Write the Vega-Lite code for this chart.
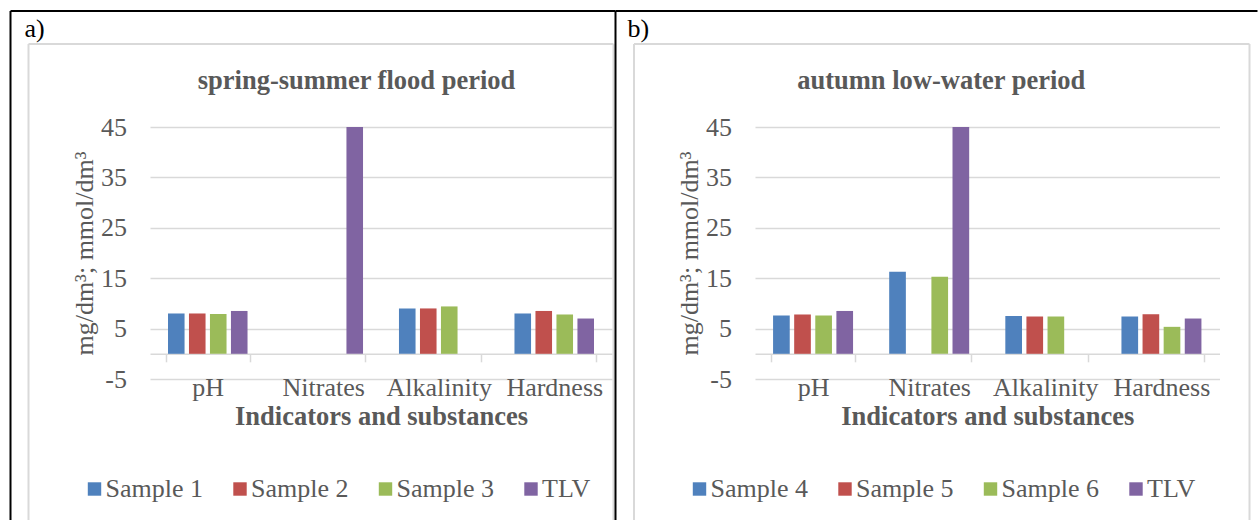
{
  "$schema": "https://vega.github.io/schema/vega-lite/v6.json",
  "padding": {"left": 9, "top": 10, "right": 0, "bottom": 0},
  "background": "white",
  "config": {"view": {"stroke": null}, "font": "Liberation Serif"},
  "spacing": 143,
  "bounds": "flush",
  "resolve": {"scale": {"color": "independent", "x": "independent", "y": "independent", "xOffset": "independent"}, "legend": {"color": "independent"}, "axis": {"x": "independent", "y": "independent"}},
  "hconcat": [
    {
      "width": 462,
      "height": 252,
      "title": {"text": "spring-summer flood period", "frame": "group", "anchor": "middle", "dx": -24.5, "offset": -105, "baseline": "alphabetic", "font": "Liberation Serif", "fontSize": 26.5, "fontWeight": "bold", "color": "#595959"},
      "resolve": {"scale": {"x": "independent", "y": "independent"}, "axis": {"x": "independent", "y": "independent"}},
      "layer": [
        {
          "data": {"values": [{"frame": "chart area"}]},
          "layer": [
            {"mark": {"type": "rule", "color": "#d9d9d9", "strokeWidth": 2}, "encoding": {"x": {"datum": 0, "type": "quantitative", "scale": {"domain": [0, 1], "range": [-121.5, 463.5]}, "axis": null}, "x2": {"datum": 1}, "y": {"datum": 0, "type": "quantitative", "scale": {"domain": [0, 1], "range": [-83, 393]}, "axis": null}}},
            {"mark": {"type": "rule", "color": "#d9d9d9", "strokeWidth": 2}, "encoding": {"x": {"datum": 0, "type": "quantitative", "scale": {"domain": [0, 1], "range": [-121.5, 463.5]}, "axis": null}, "y": {"datum": 0, "type": "quantitative", "scale": {"domain": [0, 1], "range": [-83, 393]}, "axis": null}, "y2": {"datum": 1}}},
            {"mark": {"type": "rule", "color": "#d9d9d9", "strokeWidth": 2}, "encoding": {"x": {"datum": 1, "type": "quantitative", "scale": {"domain": [0, 1], "range": [-121.5, 463.5]}, "axis": null}, "y": {"datum": 0, "type": "quantitative", "scale": {"domain": [0, 1], "range": [-83, 393]}, "axis": null}, "y2": {"datum": 1}}}
          ]
        },
        {
          "data": {"values": [
            {"indicator": "pH", "series": "Sample 1", "value": 8.0},
            {"indicator": "pH", "series": "Sample 2", "value": 8.0},
            {"indicator": "pH", "series": "Sample 3", "value": 7.9},
            {"indicator": "pH", "series": "TLV", "value": 8.5},
            {"indicator": "Nitrates", "series": "TLV", "value": 45},
            {"indicator": "Alkalinity", "series": "Sample 1", "value": 9.0},
            {"indicator": "Alkalinity", "series": "Sample 2", "value": 9.0},
            {"indicator": "Alkalinity", "series": "Sample 3", "value": 9.4},
            {"indicator": "Hardness", "series": "Sample 1", "value": 8.0},
            {"indicator": "Hardness", "series": "Sample 2", "value": 8.5},
            {"indicator": "Hardness", "series": "Sample 3", "value": 7.8},
            {"indicator": "Hardness", "series": "TLV", "value": 7.0}
          ]},
          "mark": {"type": "bar"},
          "encoding": {
            "x": {"field": "indicator", "type": "nominal", "sort": ["pH", "Nitrates", "Alkalinity", "Hardness"], "scale": {"paddingInner": 0.273, "paddingOuter": 0.1365}, "title": "Indicators and substances",
              "axis": {"orient": "bottom", "offset": -25.2, "domainColor": "#d9d9d9", "domainWidth": 1.5, "ticks": true, "tickBand": "extent", "tickSize": 8, "tickColor": "#d9d9d9", "tickWidth": 1.5, "labelFont": "Liberation Serif", "labelFontSize": 26, "labelColor": "#595959", "labelPadding": 13, "labelAngle": 0, "labelOverlap": false, "grid": false, "titleFont": "Liberation Serif", "titleFontSize": 26.5, "titleFontWeight": "bold", "titleColor": "#595959", "titlePadding": 3}},
            "xOffset": {"field": "series", "type": "nominal", "scale": {"domain": ["Sample 1", "Sample 2", "Sample 3", "TLV"], "paddingInner": 0.21, "paddingOuter": 0.105}},
            "y": {"field": "value", "type": "quantitative", "scale": {"domain": [-5, 45], "nice": false}, "title": "mg/dm³; mmol/dm³",
              "axis": {"values": [-5, 5, 15, 25, 35, 45], "domain": false, "ticks": false, "grid": true, "gridColor": "#d9d9d9", "gridWidth": 1.5, "labelFont": "Liberation Serif", "labelFontSize": 26, "labelColor": "#595959", "labelPadding": 23.5, "labelExpr": "'' + datum.value", "titleFont": "Liberation Serif", "titleFontSize": 26, "titleFontWeight": "normal", "titleColor": "#595959", "titlePadding": 3}},
            "color": {"field": "series", "type": "nominal", "scale": {"domain": ["Sample 1", "Sample 2", "Sample 3", "TLV"], "range": ["#4f81bd", "#c0504d", "#9bbb59", "#8064a2"]},
              "legend": {"orient": "none", "legendX": -68.5, "legendY": 349, "direction": "horizontal", "title": null, "symbolType": "square", "symbolSize": 180, "symbolStrokeWidth": 0, "labelFont": "Liberation Serif", "labelFontSize": 26, "labelColor": "#595959", "labelOffset": -2, "columnPadding": 23.5, "padding": 0}}
          }
        },
        {
          "data": {"values": [{"panel": "a)"}]},
          "layer": [
            {"mark": {"type": "rule", "color": "black", "strokeWidth": 2}, "encoding": {"x": {"datum": 0, "type": "quantitative", "scale": {"domain": [0, 1], "range": [-139.5, 465.5]}, "axis": null}, "x2": {"datum": 1}, "y": {"datum": 0, "type": "quantitative", "scale": {"domain": [0, 1], "range": [-116, 393]}, "axis": null}}},
            {"mark": {"type": "rule", "color": "black", "strokeWidth": 2}, "encoding": {"x": {"datum": 0, "type": "quantitative", "scale": {"domain": [0, 1], "range": [-139.5, 465.5]}, "axis": null}, "y": {"datum": 0, "type": "quantitative", "scale": {"domain": [0, 1], "range": [-116, 393]}, "axis": null}, "y2": {"datum": 1}}},
            {"mark": {"type": "rule", "color": "black", "strokeWidth": 2}, "encoding": {"x": {"datum": 1, "type": "quantitative", "scale": {"domain": [0, 1], "range": [-139.5, 465.5]}, "axis": null}, "y": {"datum": 0, "type": "quantitative", "scale": {"domain": [0, 1], "range": [-116, 393]}, "axis": null}, "y2": {"datum": 1}}},
            {"mark": {"type": "text", "font": "Liberation Serif", "fontSize": 26, "color": "black", "align": "left", "baseline": "alphabetic", "dx": 14, "dy": 26}, "encoding": {"text": {"field": "panel"}, "x": {"datum": 0, "type": "quantitative", "scale": {"domain": [0, 1], "range": [-139.5, 465.5]}, "axis": null}, "y": {"datum": 0, "type": "quantitative", "scale": {"domain": [0, 1], "range": [-116, 393]}, "axis": null}}}
          ]
        }
      ]
    },
    {
      "width": 464.5,
      "height": 252,
      "title": {"text": "autumn low-water period", "frame": "group", "anchor": "middle", "dx": -46, "offset": -105, "baseline": "alphabetic", "font": "Liberation Serif", "fontSize": 26.5, "fontWeight": "bold", "color": "#595959"},
      "resolve": {"scale": {"x": "independent", "y": "independent"}, "axis": {"x": "independent", "y": "independent"}},
      "layer": [
        {
          "data": {"values": [{"frame": "chart area"}]},
          "layer": [
            {"mark": {"type": "rule", "color": "#d9d9d9", "strokeWidth": 2}, "encoding": {"x": {"datum": 0, "type": "quantitative", "scale": {"domain": [0, 1], "range": [-121, 494.5]}, "axis": null}, "x2": {"datum": 1}, "y": {"datum": 0, "type": "quantitative", "scale": {"domain": [0, 1], "range": [-83, 393]}, "axis": null}}},
            {"mark": {"type": "rule", "color": "#d9d9d9", "strokeWidth": 2}, "encoding": {"x": {"datum": 0, "type": "quantitative", "scale": {"domain": [0, 1], "range": [-121, 494.5]}, "axis": null}, "y": {"datum": 0, "type": "quantitative", "scale": {"domain": [0, 1], "range": [-83, 393]}, "axis": null}, "y2": {"datum": 1}}},
            {"mark": {"type": "rule", "color": "#d9d9d9", "strokeWidth": 2}, "encoding": {"x": {"datum": 1, "type": "quantitative", "scale": {"domain": [0, 1], "range": [-121, 494.5]}, "axis": null}, "y": {"datum": 0, "type": "quantitative", "scale": {"domain": [0, 1], "range": [-83, 393]}, "axis": null}, "y2": {"datum": 1}}}
          ]
        },
        {
          "data": {"values": [
            {"indicator": "pH", "series": "Sample 4", "value": 7.6},
            {"indicator": "pH", "series": "Sample 5", "value": 7.8},
            {"indicator": "pH", "series": "Sample 6", "value": 7.6},
            {"indicator": "pH", "series": "TLV", "value": 8.5},
            {"indicator": "Nitrates", "series": "Sample 4", "value": 16.3},
            {"indicator": "Nitrates", "series": "Sample 6", "value": 15.3},
            {"indicator": "Nitrates", "series": "TLV", "value": 45},
            {"indicator": "Alkalinity", "series": "Sample 4", "value": 7.5},
            {"indicator": "Alkalinity", "series": "Sample 5", "value": 7.4},
            {"indicator": "Alkalinity", "series": "Sample 6", "value": 7.4},
            {"indicator": "Hardness", "series": "Sample 4", "value": 7.4},
            {"indicator": "Hardness", "series": "Sample 5", "value": 7.85},
            {"indicator": "Hardness", "series": "Sample 6", "value": 5.35},
            {"indicator": "Hardness", "series": "TLV", "value": 7.0}
          ]},
          "mark": {"type": "bar"},
          "encoding": {
            "x": {"field": "indicator", "type": "nominal", "sort": ["pH", "Nitrates", "Alkalinity", "Hardness"], "scale": {"paddingInner": 0.273, "paddingOuter": 0.1365}, "title": "Indicators and substances",
              "axis": {"orient": "bottom", "offset": -25.2, "domainColor": "#d9d9d9", "domainWidth": 1.5, "ticks": true, "tickBand": "extent", "tickSize": 8, "tickColor": "#d9d9d9", "tickWidth": 1.5, "labelFont": "Liberation Serif", "labelFontSize": 26, "labelColor": "#595959", "labelPadding": 13, "labelAngle": 0, "labelOverlap": false, "grid": false, "titleFont": "Liberation Serif", "titleFontSize": 26.5, "titleFontWeight": "bold", "titleColor": "#595959", "titlePadding": 3}},
            "xOffset": {"field": "series", "type": "nominal", "scale": {"domain": ["Sample 4", "Sample 5", "Sample 6", "TLV"], "paddingInner": 0.21, "paddingOuter": 0.105}},
            "y": {"field": "value", "type": "quantitative", "scale": {"domain": [-5, 45], "nice": false}, "title": "mg/dm³; mmol/dm³",
              "axis": {"values": [-5, 5, 15, 25, 35, 45], "domain": false, "ticks": false, "grid": true, "gridColor": "#d9d9d9", "gridWidth": 1.5, "labelFont": "Liberation Serif", "labelFontSize": 26, "labelColor": "#595959", "labelPadding": 23.5, "labelExpr": "'' + datum.value", "titleFont": "Liberation Serif", "titleFontSize": 26, "titleFontWeight": "normal", "titleColor": "#595959", "titlePadding": 3}},
            "color": {"field": "series", "type": "nominal", "scale": {"domain": ["Sample 4", "Sample 5", "Sample 6", "TLV"], "range": ["#4f81bd", "#c0504d", "#9bbb59", "#8064a2"]},
              "legend": {"orient": "none", "legendX": -68.5, "legendY": 349, "direction": "horizontal", "title": null, "symbolType": "square", "symbolSize": 180, "symbolStrokeWidth": 0, "labelFont": "Liberation Serif", "labelFontSize": 26, "labelColor": "#595959", "labelOffset": -2, "columnPadding": 23.5, "padding": 0}}
          }
        },
        {
          "data": {"values": [{"panel": "b)"}]},
          "layer": [
            {"mark": {"type": "rule", "color": "black", "strokeWidth": 2}, "encoding": {"x": {"datum": 0, "type": "quantitative", "scale": {"domain": [0, 1], "range": [-139.5, 502.5]}, "axis": null}, "x2": {"datum": 1}, "y": {"datum": 0, "type": "quantitative", "scale": {"domain": [0, 1], "range": [-116, 393]}, "axis": null}}},
            {"mark": {"type": "text", "font": "Liberation Serif", "fontSize": 26, "color": "black", "align": "left", "baseline": "alphabetic", "dx": 12, "dy": 26}, "encoding": {"text": {"field": "panel"}, "x": {"datum": 0, "type": "quantitative", "scale": {"domain": [0, 1], "range": [-139.5, 502.5]}, "axis": null}, "y": {"datum": 0, "type": "quantitative", "scale": {"domain": [0, 1], "range": [-116, 393]}, "axis": null}}}
          ]
        }
      ]
    }
  ]
}
